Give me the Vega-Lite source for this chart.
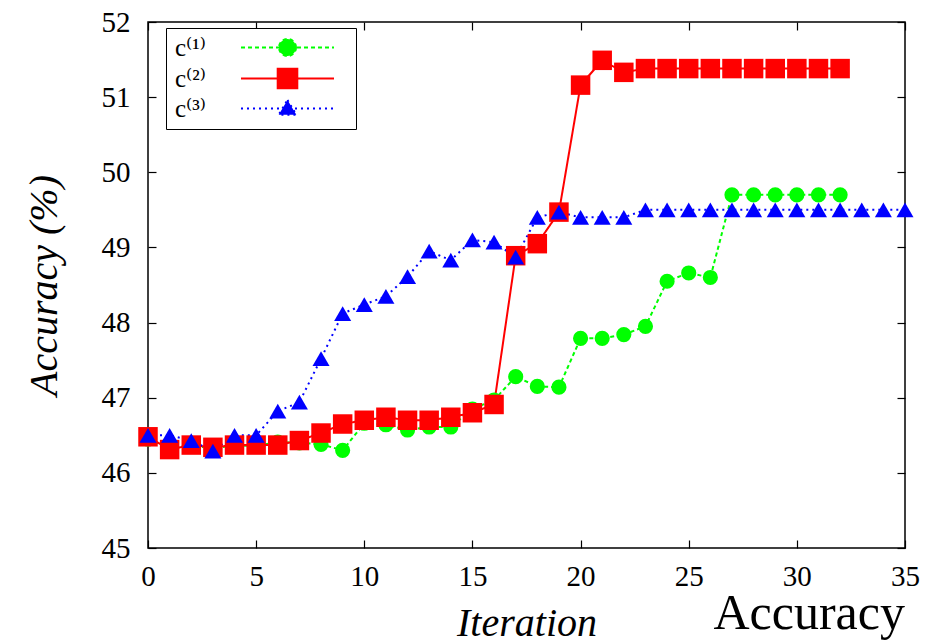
{
  "$schema": "https://vega.github.io/schema/vega-lite/v6.json",
  "width": 757,
  "height": 526,
  "autosize": {"type": "none"},
  "padding": {"left": 148, "top": 22, "right": 32, "bottom": 95},
  "background": "white",
  "title": {"text": "Accuracy", "orient": "bottom", "anchor": "end", "frame": "group", "font": "Liberation Serif, DejaVu Serif, serif", "fontSize": 50, "fontWeight": "normal", "color": "#000", "offset": -54},
  "data": {"values": [
    {"it": 0, "s": "c⁽¹⁾", "acc": 46.45}, {"it": 1, "s": "c⁽¹⁾", "acc": 46.33}, {"it": 2, "s": "c⁽¹⁾", "acc": 46.36}, {"it": 3, "s": "c⁽¹⁾", "acc": 46.33},
    {"it": 4, "s": "c⁽¹⁾", "acc": 46.36}, {"it": 5, "s": "c⁽¹⁾", "acc": 46.36}, {"it": 6, "s": "c⁽¹⁾", "acc": 46.41}, {"it": 7, "s": "c⁽¹⁾", "acc": 46.40},
    {"it": 8, "s": "c⁽¹⁾", "acc": 46.38}, {"it": 9, "s": "c⁽¹⁾", "acc": 46.30}, {"it": 10, "s": "c⁽¹⁾", "acc": 46.66}, {"it": 11, "s": "c⁽¹⁾", "acc": 46.64},
    {"it": 12, "s": "c⁽¹⁾", "acc": 46.57}, {"it": 13, "s": "c⁽¹⁾", "acc": 46.61}, {"it": 14, "s": "c⁽¹⁾", "acc": 46.61}, {"it": 15, "s": "c⁽¹⁾", "acc": 46.85},
    {"it": 16, "s": "c⁽¹⁾", "acc": 46.97}, {"it": 17, "s": "c⁽¹⁾", "acc": 47.28}, {"it": 18, "s": "c⁽¹⁾", "acc": 47.15}, {"it": 19, "s": "c⁽¹⁾", "acc": 47.14},
    {"it": 20, "s": "c⁽¹⁾", "acc": 47.79}, {"it": 21, "s": "c⁽¹⁾", "acc": 47.79}, {"it": 22, "s": "c⁽¹⁾", "acc": 47.84}, {"it": 23, "s": "c⁽¹⁾", "acc": 47.95},
    {"it": 24, "s": "c⁽¹⁾", "acc": 48.55}, {"it": 25, "s": "c⁽¹⁾", "acc": 48.66}, {"it": 26, "s": "c⁽¹⁾", "acc": 48.60}, {"it": 27, "s": "c⁽¹⁾", "acc": 49.70},
    {"it": 28, "s": "c⁽¹⁾", "acc": 49.70}, {"it": 29, "s": "c⁽¹⁾", "acc": 49.70}, {"it": 30, "s": "c⁽¹⁾", "acc": 49.70}, {"it": 31, "s": "c⁽¹⁾", "acc": 49.70},
    {"it": 32, "s": "c⁽¹⁾", "acc": 49.70},
    {"it": 0, "s": "c⁽²⁾", "acc": 46.48}, {"it": 1, "s": "c⁽²⁾", "acc": 46.31}, {"it": 2, "s": "c⁽²⁾", "acc": 46.37}, {"it": 3, "s": "c⁽²⁾", "acc": 46.34},
    {"it": 4, "s": "c⁽²⁾", "acc": 46.37}, {"it": 5, "s": "c⁽²⁾", "acc": 46.37}, {"it": 6, "s": "c⁽²⁾", "acc": 46.37}, {"it": 7, "s": "c⁽²⁾", "acc": 46.43},
    {"it": 8, "s": "c⁽²⁾", "acc": 46.53}, {"it": 9, "s": "c⁽²⁾", "acc": 46.65}, {"it": 10, "s": "c⁽²⁾", "acc": 46.70}, {"it": 11, "s": "c⁽²⁾", "acc": 46.74},
    {"it": 12, "s": "c⁽²⁾", "acc": 46.70}, {"it": 13, "s": "c⁽²⁾", "acc": 46.70}, {"it": 14, "s": "c⁽²⁾", "acc": 46.74}, {"it": 15, "s": "c⁽²⁾", "acc": 46.80},
    {"it": 16, "s": "c⁽²⁾", "acc": 46.91}, {"it": 17, "s": "c⁽²⁾", "acc": 48.89}, {"it": 18, "s": "c⁽²⁾", "acc": 49.05}, {"it": 19, "s": "c⁽²⁾", "acc": 49.47},
    {"it": 20, "s": "c⁽²⁾", "acc": 51.16}, {"it": 21, "s": "c⁽²⁾", "acc": 51.49}, {"it": 22, "s": "c⁽²⁾", "acc": 51.33}, {"it": 23, "s": "c⁽²⁾", "acc": 51.38},
    {"it": 24, "s": "c⁽²⁾", "acc": 51.38}, {"it": 25, "s": "c⁽²⁾", "acc": 51.38}, {"it": 26, "s": "c⁽²⁾", "acc": 51.38}, {"it": 27, "s": "c⁽²⁾", "acc": 51.38},
    {"it": 28, "s": "c⁽²⁾", "acc": 51.38}, {"it": 29, "s": "c⁽²⁾", "acc": 51.38}, {"it": 30, "s": "c⁽²⁾", "acc": 51.38}, {"it": 31, "s": "c⁽²⁾", "acc": 51.38},
    {"it": 32, "s": "c⁽²⁾", "acc": 51.38},
    {"it": 0, "s": "c⁽³⁾", "acc": 46.50}, {"it": 1, "s": "c⁽³⁾", "acc": 46.50}, {"it": 2, "s": "c⁽³⁾", "acc": 46.43}, {"it": 3, "s": "c⁽³⁾", "acc": 46.29},
    {"it": 4, "s": "c⁽³⁾", "acc": 46.50}, {"it": 5, "s": "c⁽³⁾", "acc": 46.50}, {"it": 6, "s": "c⁽³⁾", "acc": 46.82}, {"it": 7, "s": "c⁽³⁾", "acc": 46.94},
    {"it": 8, "s": "c⁽³⁾", "acc": 47.52}, {"it": 9, "s": "c⁽³⁾", "acc": 48.12}, {"it": 10, "s": "c⁽³⁾", "acc": 48.24}, {"it": 11, "s": "c⁽³⁾", "acc": 48.35},
    {"it": 12, "s": "c⁽³⁾", "acc": 48.61}, {"it": 13, "s": "c⁽³⁾", "acc": 48.95}, {"it": 14, "s": "c⁽³⁾", "acc": 48.83}, {"it": 15, "s": "c⁽³⁾", "acc": 49.10},
    {"it": 16, "s": "c⁽³⁾", "acc": 49.07}, {"it": 17, "s": "c⁽³⁾", "acc": 48.87}, {"it": 18, "s": "c⁽³⁾", "acc": 49.40}, {"it": 19, "s": "c⁽³⁾", "acc": 49.47},
    {"it": 20, "s": "c⁽³⁾", "acc": 49.40}, {"it": 21, "s": "c⁽³⁾", "acc": 49.40}, {"it": 22, "s": "c⁽³⁾", "acc": 49.40}, {"it": 23, "s": "c⁽³⁾", "acc": 49.50},
    {"it": 24, "s": "c⁽³⁾", "acc": 49.50}, {"it": 25, "s": "c⁽³⁾", "acc": 49.50}, {"it": 26, "s": "c⁽³⁾", "acc": 49.50}, {"it": 27, "s": "c⁽³⁾", "acc": 49.50},
    {"it": 28, "s": "c⁽³⁾", "acc": 49.50}, {"it": 29, "s": "c⁽³⁾", "acc": 49.50}, {"it": 30, "s": "c⁽³⁾", "acc": 49.50}, {"it": 31, "s": "c⁽³⁾", "acc": 49.50},
    {"it": 32, "s": "c⁽³⁾", "acc": 49.50}, {"it": 33, "s": "c⁽³⁾", "acc": 49.50}, {"it": 34, "s": "c⁽³⁾", "acc": 49.50}, {"it": 35, "s": "c⁽³⁾", "acc": 49.50}
  ]},
  "layer": [
    {
      "mark": {"type": "line", "strokeWidth": 2},
      "encoding": {
        "x": {"field": "it", "type": "quantitative", "scale": {"domain": [0, 35], "nice": false, "zero": false},
              "axis": {"orient": "bottom", "values": [0, 5, 10, 15, 20, 25, 30, 35], "title": "Iteration", "labelPadding": 22, "titlePadding": 12}},
        "y": {"field": "acc", "type": "quantitative", "scale": {"domain": [45, 52], "nice": false, "zero": false},
              "axis": {"orient": "left", "values": [45, 46, 47, 48, 49, 50, 51, 52], "title": "Accuracy (%)", "labelPadding": 26, "titlePadding": 37}},
        "color": {"field": "s", "type": "nominal", "sort": null,
                  "scale": {"domain": ["c⁽¹⁾", "c⁽²⁾", "c⁽³⁾"], "range": ["#00ff00", "#ff0000", "#0000ff"]},
                  "legend": {
                    "encode": {"symbols": {"update": {
                      "shape": {"signal": "datum.index === 0 ? 'M5.7,0M-4.65,0H4.65M0.85,0A0.85,0.85 0 1,1 -0.85,0A0.85,0.85 0 1,1 0.85,0Z' : datum.index === 1 ? 'M5.7,0M-4.65,0H4.65M-0.98,-0.98H0.98V0.98H-0.98Z' : 'M5.7,0M-4.65,0H4.65M0,-0.85L0.88,0.62L-0.88,0.62Z'"},
                      "strokeDash": {"signal": "datum.index === 0 ? [4, 3] : datum.index === 2 ? [2, 4] : [1, 0]"},
                      "stroke": {"signal": "datum.index === 0 ? '#00ff00' : datum.index === 1 ? '#ff0000' : '#0000ff'"},
                      "fill": {"signal": "datum.index === 0 ? '#00ff00' : datum.index === 1 ? '#ff0000' : '#0000ff'"},
                      "strokeWidth": {"value": 2},
                      "size": {"value": 400},
                      "opacity": {"value": 1}
                    }}}
                  }},
        "strokeDash": {"field": "s", "type": "nominal", "sort": null,
                       "scale": {"domain": ["c⁽¹⁾", "c⁽²⁾", "c⁽³⁾"], "range": [[4, 3], [1, 0], [2, 4]]},
                       "legend": {
                    "encode": {"symbols": {"update": {
                      "shape": {"signal": "datum.index === 0 ? 'M5.7,0M-4.65,0H4.65M0.85,0A0.85,0.85 0 1,1 -0.85,0A0.85,0.85 0 1,1 0.85,0Z' : datum.index === 1 ? 'M5.7,0M-4.65,0H4.65M-0.98,-0.98H0.98V0.98H-0.98Z' : 'M5.7,0M-4.65,0H4.65M0,-0.85L0.88,0.62L-0.88,0.62Z'"},
                      "strokeDash": {"signal": "datum.index === 0 ? [4, 3] : datum.index === 2 ? [2, 4] : [1, 0]"},
                      "stroke": {"signal": "datum.index === 0 ? '#00ff00' : datum.index === 1 ? '#ff0000' : '#0000ff'"},
                      "fill": {"signal": "datum.index === 0 ? '#00ff00' : datum.index === 1 ? '#ff0000' : '#0000ff'"},
                      "strokeWidth": {"value": 2},
                      "size": {"value": 400},
                      "opacity": {"value": 1}
                    }}}
                  }}
      }
    },
    {
      "transform": [{"filter": "datum.s === 'c⁽¹⁾'"}],
      "mark": {"type": "point", "shape": "circle", "size": 230, "filled": true, "opacity": 1, "strokeWidth": 0},
      "encoding": {
        "x": {"field": "it", "type": "quantitative", "scale": {"domain": [0, 35], "nice": false, "zero": false},
              "axis": {"orient": "top", "values": [0, 5, 10, 15, 20, 25, 30, 35], "labels": false, "title": null}},
        "y": {"field": "acc", "type": "quantitative", "scale": {"domain": [45, 52], "nice": false, "zero": false},
              "axis": {"orient": "right", "values": [45, 46, 47, 48, 49, 50, 51, 52], "labels": false, "title": null}},
        "color": {"field": "s", "type": "nominal", "sort": null,
                  "legend": {
                    "encode": {"symbols": {"update": {
                      "shape": {"signal": "datum.index === 0 ? 'M5.7,0M-4.65,0H4.65M0.85,0A0.85,0.85 0 1,1 -0.85,0A0.85,0.85 0 1,1 0.85,0Z' : datum.index === 1 ? 'M5.7,0M-4.65,0H4.65M-0.98,-0.98H0.98V0.98H-0.98Z' : 'M5.7,0M-4.65,0H4.65M0,-0.85L0.88,0.62L-0.88,0.62Z'"},
                      "strokeDash": {"signal": "datum.index === 0 ? [4, 3] : datum.index === 2 ? [2, 4] : [1, 0]"},
                      "stroke": {"signal": "datum.index === 0 ? '#00ff00' : datum.index === 1 ? '#ff0000' : '#0000ff'"},
                      "fill": {"signal": "datum.index === 0 ? '#00ff00' : datum.index === 1 ? '#ff0000' : '#0000ff'"},
                      "strokeWidth": {"value": 2},
                      "size": {"value": 400},
                      "opacity": {"value": 1}
                    }}}
                  }}
      }
    },
    {
      "transform": [{"filter": "datum.s === 'c⁽²⁾'"}],
      "mark": {"type": "point", "shape": "square", "size": 380, "filled": true, "opacity": 1, "strokeWidth": 0},
      "encoding": {
        "x": {"field": "it", "type": "quantitative", "scale": {"domain": [0, 35], "nice": false, "zero": false}, "axis": null},
        "y": {"field": "acc", "type": "quantitative", "scale": {"domain": [45, 52], "nice": false, "zero": false}, "axis": null},
        "color": {"field": "s", "type": "nominal", "sort": null,
                  "legend": {
                    "encode": {"symbols": {"update": {
                      "shape": {"signal": "datum.index === 0 ? 'M5.7,0M-4.65,0H4.65M0.85,0A0.85,0.85 0 1,1 -0.85,0A0.85,0.85 0 1,1 0.85,0Z' : datum.index === 1 ? 'M5.7,0M-4.65,0H4.65M-0.98,-0.98H0.98V0.98H-0.98Z' : 'M5.7,0M-4.65,0H4.65M0,-0.85L0.88,0.62L-0.88,0.62Z'"},
                      "strokeDash": {"signal": "datum.index === 0 ? [4, 3] : datum.index === 2 ? [2, 4] : [1, 0]"},
                      "stroke": {"signal": "datum.index === 0 ? '#00ff00' : datum.index === 1 ? '#ff0000' : '#0000ff'"},
                      "fill": {"signal": "datum.index === 0 ? '#00ff00' : datum.index === 1 ? '#ff0000' : '#0000ff'"},
                      "strokeWidth": {"value": 2},
                      "size": {"value": 400},
                      "opacity": {"value": 1}
                    }}}
                  }}
      }
    },
    {
      "transform": [{"filter": "datum.s === 'c⁽³⁾'"}],
      "mark": {"type": "point", "shape": "triangle-up", "size": 290, "filled": true, "opacity": 1, "strokeWidth": 0},
      "encoding": {
        "x": {"field": "it", "type": "quantitative", "scale": {"domain": [0, 35], "nice": false, "zero": false}, "axis": null},
        "y": {"field": "acc", "type": "quantitative", "scale": {"domain": [45, 52], "nice": false, "zero": false}, "axis": null},
        "color": {"field": "s", "type": "nominal", "sort": null,
                  "legend": {
                    "encode": {"symbols": {"update": {
                      "shape": {"signal": "datum.index === 0 ? 'M5.7,0M-4.65,0H4.65M0.85,0A0.85,0.85 0 1,1 -0.85,0A0.85,0.85 0 1,1 0.85,0Z' : datum.index === 1 ? 'M5.7,0M-4.65,0H4.65M-0.98,-0.98H0.98V0.98H-0.98Z' : 'M5.7,0M-4.65,0H4.65M0,-0.85L0.88,0.62L-0.88,0.62Z'"},
                      "strokeDash": {"signal": "datum.index === 0 ? [4, 3] : datum.index === 2 ? [2, 4] : [1, 0]"},
                      "stroke": {"signal": "datum.index === 0 ? '#00ff00' : datum.index === 1 ? '#ff0000' : '#0000ff'"},
                      "fill": {"signal": "datum.index === 0 ? '#00ff00' : datum.index === 1 ? '#ff0000' : '#0000ff'"},
                      "strokeWidth": {"value": 2},
                      "size": {"value": 400},
                      "opacity": {"value": 1}
                    }}}
                  }}
      }
    }
  ],
  "resolve": {"axis": {"x": "independent", "y": "independent"}},
  "config": {
    "view": {"stroke": "#000", "strokeWidth": 1.5},
    "legend": {
      "title": null, "orient": "none", "legendX": 18, "legendY": 6,
      "strokeColor": "#000", "fillColor": "#fff", "padding": 7,
      "symbolSize": 400, "symbolOffset": 102, "labelOffset": -125,
      "labelFont": "Liberation Serif, DejaVu Serif, serif", "labelFontSize": 25, "labelColor": "#000",
      "rowPadding": 3
    },
    "axis": {
      "domain": false, "grid": false, "labelFlush": false,
      "tickColor": "#000", "tickSize": -8, "tickWidth": 1.2,
      "labelColor": "#000", "labelFont": "Liberation Serif, DejaVu Serif, serif", "labelFontSize": 29,
      "titleFont": "Liberation Serif, DejaVu Serif, serif", "titleFontStyle": "italic", "titleFontWeight": "normal",
      "titleFontSize": 40, "titleColor": "#000"
    }
  }
}
